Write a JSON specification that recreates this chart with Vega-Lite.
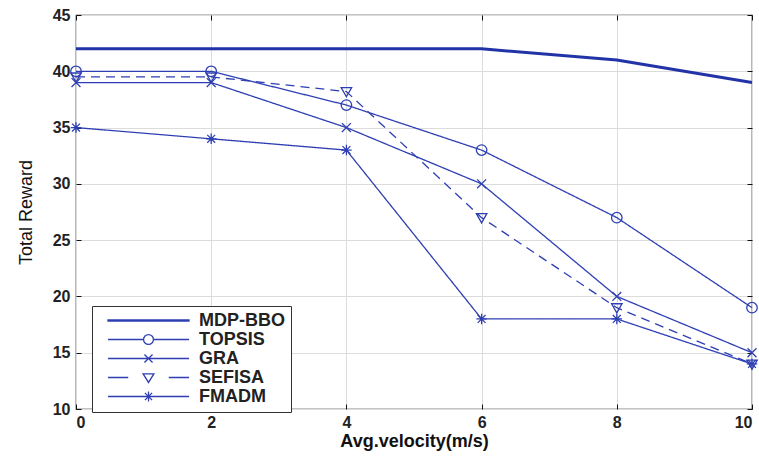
{
  "$schema": "https://vega.github.io/schema/vega-lite/v6.json",
  "width": 676,
  "height": 394,
  "autosize": {"type": "none"},
  "padding": {"left": 76, "top": 15, "right": 7, "bottom": 52},
  "background": "white",
  "config": {
    "view": {"stroke": "#111", "strokeWidth": 1.2},
    "axis": {
      "labelFont": "Liberation Sans",
      "labelFontWeight": "bold",
      "labelFontSize": 16,
      "labelColor": "#222",
      "titleFont": "Liberation Sans",
      "titleColor": "#111",
      "gridColor": "#dcdcdc",
      "gridWidth": 1,
      "domain": false,
      "tickColor": "#111",
      "tickSize": -5
    }
  },
  "data": {
    "values": [
      {"v": 0, "r": 42, "s": "MDP-BBO"}, {"v": 2, "r": 42, "s": "MDP-BBO"}, {"v": 4, "r": 42, "s": "MDP-BBO"},
      {"v": 6, "r": 42, "s": "MDP-BBO"}, {"v": 8, "r": 41, "s": "MDP-BBO"}, {"v": 10, "r": 39, "s": "MDP-BBO"},
      {"v": 0, "r": 40, "s": "TOPSIS"}, {"v": 2, "r": 40, "s": "TOPSIS"}, {"v": 4, "r": 37, "s": "TOPSIS"},
      {"v": 6, "r": 33, "s": "TOPSIS"}, {"v": 8, "r": 27, "s": "TOPSIS"}, {"v": 10, "r": 19, "s": "TOPSIS"},
      {"v": 0, "r": 39, "s": "GRA"}, {"v": 2, "r": 39, "s": "GRA"}, {"v": 4, "r": 35, "s": "GRA"},
      {"v": 6, "r": 30, "s": "GRA"}, {"v": 8, "r": 20, "s": "GRA"}, {"v": 10, "r": 15, "s": "GRA"},
      {"v": 0, "r": 39.5, "s": "SEFISA"}, {"v": 2, "r": 39.5, "s": "SEFISA"}, {"v": 4, "r": 38.2, "s": "SEFISA"},
      {"v": 6, "r": 27, "s": "SEFISA"}, {"v": 8, "r": 19, "s": "SEFISA"}, {"v": 10, "r": 14, "s": "SEFISA"},
      {"v": 0, "r": 35, "s": "FMADM"}, {"v": 2, "r": 34, "s": "FMADM"}, {"v": 4, "r": 33, "s": "FMADM"},
      {"v": 6, "r": 18, "s": "FMADM"}, {"v": 8, "r": 18, "s": "FMADM"}, {"v": 10, "r": 14, "s": "FMADM"}
    ]
  },
  "layer": [
    {
      "transform": [{"filter": "datum.s == 'MDP-BBO'"}],
      "mark": {"type": "line", "color": "#2233a8", "strokeWidth": 3, "clip": false},
      "encoding": {
        "x": {"field": "v", "type": "quantitative", "scale": {"domain": [0, 10], "nice": false},
          "axis": {"values": [0, 2, 4, 6, 8, 10], "title": "Avg.velocity(m/s)", "titleFontSize": 18, "titleFontWeight": "bold", "labelPadding": 10, "titlePadding": 2}},
        "y": {"field": "r", "type": "quantitative", "scale": {"domain": [10, 45], "nice": false, "zero": false},
          "axis": {"values": [10, 15, 20, 25, 30, 35, 40, 45], "title": "Total Reward", "titleFontSize": 18, "titleFontWeight": "normal", "labelPadding": 11, "titlePadding": 17}}
      }
    },
    {
      "transform": [{"filter": "datum.s != 'MDP-BBO'"}],
      "mark": {"type": "line", "color": "#2e3fb3", "strokeWidth": 1.3, "clip": false},
      "encoding": {
        "x": {"field": "v", "type": "quantitative", "axis": null},
        "y": {"field": "r", "type": "quantitative", "axis": null},
        "detail": {"field": "s"},
        "strokeDash": {"field": "s", "type": "nominal", "legend": null,
          "scale": {"domain": ["TOPSIS", "GRA", "SEFISA", "FMADM"], "range": [[1, 0], [1, 0], [9, 6], [1, 0]]}}
      }
    },
    {
      "transform": [{"filter": "datum.s != 'MDP-BBO'"}],
      "mark": {"type": "point", "filled": false, "color": "#2e3fb3", "size": 110, "strokeWidth": 1.3, "opacity": 1, "clip": false},
      "encoding": {
        "x": {"field": "v", "type": "quantitative", "axis": null},
        "y": {"field": "r", "type": "quantitative", "axis": null},
        "shape": {"field": "s", "type": "nominal", "legend": null,
          "scale": {"domain": ["TOPSIS", "GRA", "SEFISA", "FMADM"],
            "range": ["circle", "M-0.85,-0.85L0.85,0.85M-0.85,0.85L0.85,-0.85", "M-1,-0.75L1,-0.75L0,1Z", "M-1,0H1M0,-1V1M-0.75,-0.75L0.75,0.75M-0.75,0.75L0.75,-0.75"]}}
      }
    },
    {
      "transform": [{"filter": "datum.v < 0"}],
      "mark": {"type": "point", "filled": false, "color": "#2e3fb3", "strokeWidth": 1.3, "opacity": 1},
      "encoding": {
        "x": {"field": "v", "type": "quantitative", "axis": {"orient": "top", "labels": false, "title": null, "grid": false, "values": [0, 2, 4, 6, 8, 10]}},
        "y": {"field": "r", "type": "quantitative", "axis": {"orient": "right", "labels": false, "title": null, "grid": false, "values": [10, 15, 20, 25, 30, 35, 40, 45]}},
        "shape": {"field": "s", "type": "nominal",
          "scale": {"domain": ["MDP-BBO", "TOPSIS", "GRA", "SEFISA", "FMADM"],
            "range": [
              "M-0.8,-0.013H1V0.013H-0.8Z",
              "M-0.8,0H-0.01M0.21,0H1M-0.01,0A0.11,0.11 0 1,0 0.21,0A0.11,0.11 0 1,0 -0.01,0",
              "M-0.8,0H1M0.01,-0.09L0.19,0.09M0.01,0.09L0.19,-0.09",
              "M-0.8,0H-0.35M0.55,0H1M-0.02,-0.08L0.22,-0.08L0.1,0.11Z",
              "M-0.8,0H1M0.1,-0.11V0.11M0.02,-0.08L0.18,0.08M0.02,0.08L0.18,-0.08"
            ]},
          "legend": {
            "title": null,
            "orient": "none",
            "legendX": 16,
            "legendY": 291,
            "symbolSize": 8100,
            "clipHeight": 17,
            "symbolStrokeWidth": 1.3,
            "symbolStrokeColor": "#2e3fb3",
            "symbolFillColor": "transparent",
            "symbolOpacity": 1,
            "labelFont": "Liberation Sans",
            "labelFontWeight": "bold",
            "labelFontSize": 18,
            "labelColor": "#222",
            "labelOffset": 9,
            "labelLimit": 300,
            "rowPadding": 0,
            "padding": 6,
            "strokeColor": "#333",
            "fillColor": "white"
          }
        }
      }
    }
  ],
  "resolve": {"scale": {"shape": "independent", "strokeDash": "independent"}, "legend": {"shape": "independent"}, "axis": {"x": "independent", "y": "independent"}}
}
